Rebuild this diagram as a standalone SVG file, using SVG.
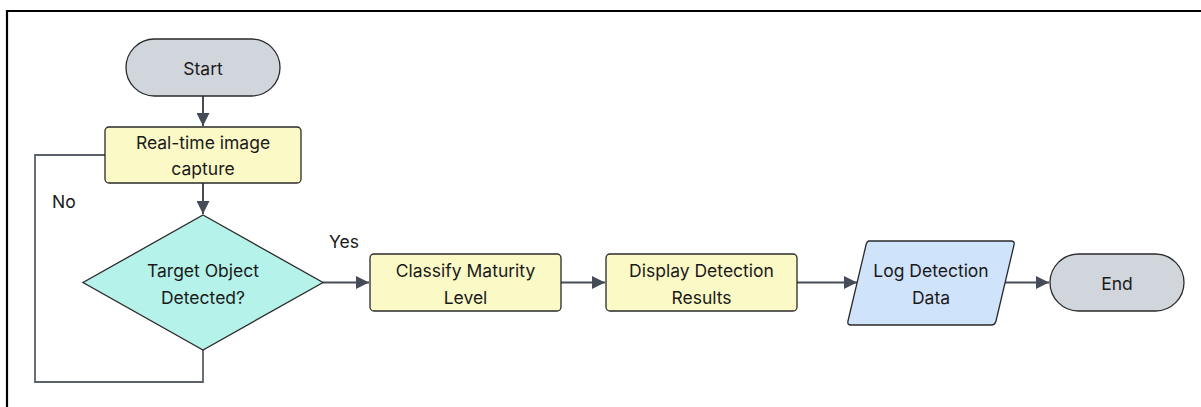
<svg xmlns="http://www.w3.org/2000/svg" width="1201" height="407" viewBox="0 0 1201 407">
<style>
text{font-family:Inter,"Noto Sans","Liberation Sans",sans-serif;font-size:17.5px;fill:#1a1a1a;text-anchor:middle;dominant-baseline:central}
.term{fill:#d1d5dc;stroke:#2a2a2a;stroke-width:1.3}
.proc{fill:#fbf9c6;stroke:#2a2a2a;stroke-width:1.3}
.dec{fill:#b5f2e9;stroke:#2a2a2a;stroke-width:1.3}
.io{fill:#cfe3fb;stroke:#2a2a2a;stroke-width:1.3}
.edge{fill:none;stroke:#454c57;stroke-width:2}
.loop{fill:none;stroke:#5a616b;stroke-width:1.8}
.lbl{text-anchor:start}
</style>
<defs>
<marker id="arr" viewBox="0 0 10 10" refX="10" refY="5" markerWidth="6.5" markerHeight="6.5" markerUnits="strokeWidth" orient="auto">
<path d="M0,0 L10,5 L0,10 z" fill="#454c57"/>
</marker>
</defs>
<rect x="0" y="0" width="1201" height="407" fill="#fff"/>
<path d="M7,420 V11 H1215" fill="none" stroke="#000" stroke-width="2.2"/>
<g id="connectors">
<path class="edge" d="M203,96 V126" marker-end="url(#arr)"/>
<path class="edge" d="M203,183 V214" marker-end="url(#arr)"/>
<path class="loop" d="M203,350 V382 H35 V155 H105"/>
<path class="edge" d="M323,282.5 H369" marker-end="url(#arr)"/>
<path class="edge" d="M561,282.5 H605" marker-end="url(#arr)"/>
<path class="edge" d="M797,282.5 H857" marker-end="url(#arr)"/>
<path class="edge" d="M1005,282.5 H1049" marker-end="url(#arr)"/>
<text class="lbl" x="52" y="201">No</text>
<text class="lbl" x="329" y="241">Yes</text>
</g>
<g id="start">
<rect class="term" x="126" y="39" width="154" height="57" rx="28.5"/>
<text x="203" y="68">Start</text>
</g>
<g id="capture">
<rect class="proc" x="105" y="127" width="196" height="56" rx="4"/>
<text x="203" y="142">Real-time image</text>
<text x="203" y="168">capture</text>
</g>
<g id="decision">
<polygon class="dec" points="203,215 323,282.5 203,350 83,282.5"/>
<text x="203" y="270">Target Object</text>
<text x="203" y="297">Detected?</text>
</g>
<g id="classify">
<rect class="proc" x="370" y="254" width="191" height="57" rx="4"/>
<text x="465.5" y="270">Classify Maturity</text>
<text x="465.5" y="297">Level</text>
</g>
<g id="display">
<rect class="proc" x="606" y="254" width="191" height="57" rx="4"/>
<text x="701.5" y="270">Display Detection</text>
<text x="701.5" y="297">Results</text>
</g>
<g id="log">
<path class="io" d="M869,241 H1011 Q1015,241 1014,245 L996,321 Q995,325 991,325 H851 Q847,325 848,321 L866,245 Q867,241 869,241 Z"/>
<text x="931" y="270">Log Detection</text>
<text x="931" y="297">Data</text>
</g>
<g id="end">
<rect class="term" x="1050" y="254" width="134" height="57" rx="28.5"/>
<text x="1117" y="283">End</text>
</g>
</svg>
